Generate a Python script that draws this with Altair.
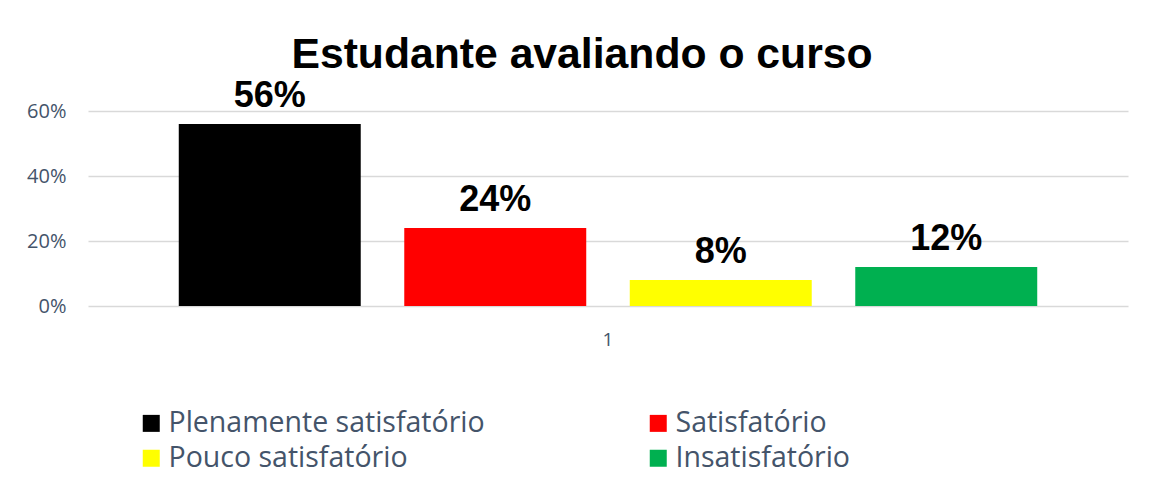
import altair as alt
import pandas as pd

categories = ["Plenamente satisfatório", "Satisfatório", "Pouco satisfatório", "Insatisfatório"]
values = [0.56, 0.24, 0.08, 0.12]
colors = ["#000000", "#FF0000", "#FFFF00", "#00B050"]
group = ["1", "1", "1", "1"]
y_ticks = [0, 0.2, 0.4, 0.6]

# legend lays entries out column by column: order them so rows read as in the reference
legend_order = [categories[0], categories[2], categories[1], categories[3]]
legend_colors = [colors[0], colors[2], colors[1], colors[3]]

df = pd.DataFrame({"grupo": group, "categoria": categories, "valor": values})

AXIS_COLOR = "#44546A"

x_enc = alt.X("grupo:N", title=None,
              scale=alt.Scale(paddingInner=0, paddingOuter=0.0765),
              axis=alt.Axis(labelAngle=0, domain=False, ticks=False, labelPadding=24,
                            labelFont="Open Sans", labelFontSize=19, labelColor=AXIS_COLOR))
xo_enc = alt.XOffset("categoria:N", sort=categories,
                     scale=alt.Scale(paddingInner=0.193, paddingOuter=0.0965))
y_enc = alt.Y("valor:Q", title=None,
              scale=alt.Scale(domain=[0, 0.6], nice=False),
              axis=alt.Axis(values=y_ticks, format=".0%", domain=False, ticks=False,
                            labelPadding=22, labelFont="Open Sans", labelFontSize=20,
                            labelColor=AXIS_COLOR, gridColor="#D9D9D9", gridWidth=1.5))

bars = alt.Chart(df).mark_bar().encode(
    x=x_enc,
    xOffset=xo_enc,
    y=y_enc,
    color=alt.Color("categoria:N",
                    scale=alt.Scale(domain=legend_order, range=legend_colors),
                    legend=alt.Legend(title=None, orient="none", legendX=49, legendY=298,
                                      columns=2, columnPadding=159, rowPadding=6,
                                      symbolType="square", symbolSize=289,
                                      symbolStrokeWidth=0, labelOffset=3,
                                      labelFont="Open Sans", labelFontSize=28.5,
                                      labelColor=AXIS_COLOR, labelLimit=600)),
)

labels = alt.Chart(df).mark_text(
    font="Liberation Sans", fontWeight="bold", fontSize=36, color="#000000",
    baseline="alphabetic", dy=-17,
).encode(
    x=alt.X("grupo:N"),
    xOffset=alt.XOffset("categoria:N", sort=categories),
    y=alt.Y("valor:Q"),
    text=alt.Text("valor:Q", format=".0%"),
)

chart = alt.layer(bars, labels).properties(
    width=1040,
    height=195,
    title=alt.TitleParams("Estudante avaliando o curso", font="Liberation Sans",
                          fontWeight="bold", fontSize=42.7, color="#000000",
                          anchor="middle", dx=-26, offset=1),
    autosize=alt.AutoSizeParams(type="none"),
    padding={"left": 80, "top": 103, "right": 16, "bottom": 168},
    background="white",
).configure_view(stroke=None)

chart.save("out.html", embed_options={"renderer": "svg", "actions": False})
